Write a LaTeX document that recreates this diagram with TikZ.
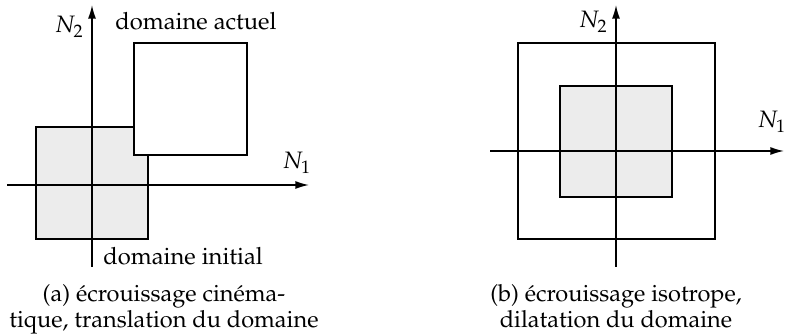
\documentclass[tikz,border=0pt]{standalone}
\usepackage[T1]{fontenc}
\usepackage{mathpazo}
\usetikzlibrary{arrows.meta}
\tikzset{
  axe/.style={line width=0.7pt,-{Latex[length=6.5pt,width=3.8pt]}},
  dom/.style={line width=1.4pt},
  lbl/.style={inner sep=0pt,font=\fontsize{11.4}{13.5}\selectfont},
  legende/.style={align=center,inner sep=0pt,font=\fontsize{11.3}{11.3}\selectfont},
}
\begin{document}
\begin{tikzpicture}[x=0.48pt,y=0.48pt]
  \useasboundingbox (0,0) rectangle (786,334);
  % (a) translation
  \begin{scope}[shift={(92,149)}]
    \filldraw[dom,fill=gray!15] (-56,-54) rectangle (56,58);
    \filldraw[dom,fill=white] (42,30) rectangle (155,142);
    \coordinate (xa0) at (-85,0);
    \coordinate (xa1) at (217,0);
    \coordinate (ya0) at (0,-82);
    \coordinate (ya1) at (0,180);
    \draw[axe] (xa0) -- (xa1);
    \draw[axe] (ya0) -- (ya1);
    \node[lbl,anchor=base west] (n1a) at (190,16) {$N_1$};
    \node[lbl,anchor=base east] (n2a) at (-8,152) {$N_2$};
    \node[lbl,anchor=base west] (actuel) at (23,155) {domaine actuel};
    \node[lbl,anchor=base west] (initial) at (11,-80) {domaine initial};
    \node[legende,anchor=north] (capa) at (72,-99)
      {(a) écrouissage cinéma-\\tique, translation du domaine};
  \end{scope}
  % (b) isotrope
  \begin{scope}[shift={(616,183)}]
    \draw[dom] (-98,-88) rectangle (99,108);
    \filldraw[dom,fill=gray!15] (-56,-46) rectangle (56,65);
    \coordinate (xb0) at (-126,0);
    \coordinate (xb1) at (168,0);
    \coordinate (yb0) at (0,-116);
    \coordinate (yb1) at (0,146);
    \draw[axe] (xb0) -- (xb1);
    \draw[axe] (yb0) -- (yb1);
    \node[lbl,anchor=base west] (n1b) at (141,23) {$N_1$};
    \node[lbl,anchor=base east] (n2b) at (-8,123) {$N_2$};
    \node[legende,anchor=north] (capb) at (0,-133)
      {(b) écrouissage isotrope,\\dilatation du domaine};
  \end{scope}
\end{tikzpicture}
\end{document}
